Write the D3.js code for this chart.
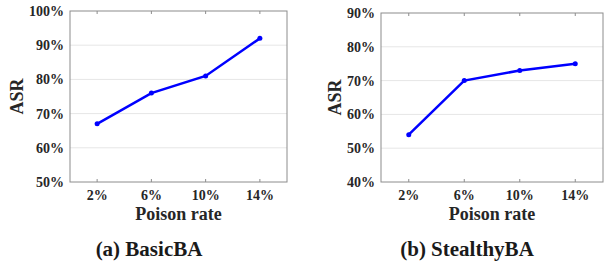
<!DOCTYPE html>
<html>
<head>
<meta charset="utf-8">
<script src="https://cdn.jsdelivr.net/npm/d3@7"></script>
<style>
  body { margin: 0; background: #fff; }
</style>
</head>
<body>
<svg width="604" height="262"></svg>
<script>
let width = 604;
let height = 262;

// dados
let rates = ["2%", "6%", "10%", "14%"];
let basicASR = [67, 76, 81, 92];
let stealthyASR = [54, 70, 73, 75];
let basicTicks = [50, 60, 70, 80, 90, 100];
let stealthyTicks = [40, 50, 60, 70, 80, 90];

let svg = d3.select("svg")
  .attr("font-family", "'Liberation Serif', 'Times New Roman', Times, serif")
  .attr("font-weight", "bold");

let textColor = "#262626";

function drawPanel(opt) {
  let g = svg.append("g");
  let x = d3.scaleBand().domain(rates).range([opt.left, opt.right]);
  let y = d3.scaleLinear().domain(opt.domain).range([opt.bottom, opt.top]);

  // grid
  g.selectAll("line.grid")
    .data(opt.ticks.slice(1, -1))
    .enter()
    .append("line")
    .attr("x1", opt.left).attr("x2", opt.right)
    .attr("y1", d => y(d)).attr("y2", d => y(d))
    .attr("stroke", "#e6e6e6").attr("stroke-width", 1);

  // box
  g.append("rect")
    .attr("x", opt.left).attr("y", opt.top)
    .attr("width", opt.right - opt.left).attr("height", opt.bottom - opt.top)
    .attr("fill", "none").attr("stroke", "#8c8c8c").attr("stroke-width", 1);

  // ticks inside (top and bottom)
  rates.forEach(r => {
    let cx = x(r) + x.bandwidth() / 2;
    g.append("line").attr("x1", cx).attr("x2", cx).attr("y1", opt.top).attr("y2", opt.top + 3).attr("stroke", "#8c8c8c");
    g.append("line").attr("x1", cx).attr("x2", cx).attr("y1", opt.bottom).attr("y2", opt.bottom - 3).attr("stroke", "#8c8c8c");
  });

  // y tick labels
  g.selectAll("text.yt")
    .data(opt.ticks)
    .enter()
    .append("text")
    .attr("x", opt.left - 6)
    .attr("y", d => y(d) + 5)
    .attr("text-anchor", "end")
    .attr("font-size", 14)
    .attr("fill", textColor)
    .text(d => d + "%");

  // x tick labels
  g.selectAll("text.xt")
    .data(rates)
    .enter()
    .append("text")
    .attr("x", d => x(d) + x.bandwidth() / 2)
    .attr("y", opt.bottom + 18)
    .attr("text-anchor", "middle")
    .attr("font-size", 14)
    .attr("fill", textColor)
    .text(d => d);

  // axis titles
  g.append("text")
    .attr("x", (opt.left + opt.right) / 2)
    .attr("y", opt.bottom + 38)
    .attr("text-anchor", "middle")
    .attr("font-size", 18)
    .attr("fill", textColor)
    .text("Poison rate");

  g.append("text")
    .attr("transform", "translate(" + opt.ylabelX + "," + ((opt.top + opt.bottom) / 2) + ") rotate(-90)")
    .attr("text-anchor", "middle")
    .attr("font-size", 18)
    .attr("fill", textColor)
    .text("ASR");

  // line + points
  let pts = opt.values.map((v, i) => [x(rates[i]) + x.bandwidth() / 2, y(v)]);
  g.append("path")
    .attr("d", d3.line()(pts))
    .attr("fill", "none")
    .attr("stroke", "#0000ff")
    .attr("stroke-width", 2.5);
  g.selectAll("circle")
    .data(pts)
    .enter()
    .append("circle")
    .attr("cx", d => d[0]).attr("cy", d => d[1])
    .attr("r", 2.5)
    .attr("fill", "#0000ff");

  // caption
  g.append("text")
    .attr("x", opt.captionX)
    .attr("y", 256)
    .attr("text-anchor", "middle")
    .attr("font-size", 21)
    .attr("fill", "#1a1a1a")
    .text(opt.caption);
}

drawPanel({
  left: 70, right: 287, top: 11, bottom: 182,
  domain: [50, 100], ticks: basicTicks, values: basicASR,
  ylabelX: 23, captionX: 149, caption: "(a) BasicBA"
});

drawPanel({
  left: 381, right: 603, top: 13, bottom: 182,
  domain: [40, 90], ticks: stealthyTicks, values: stealthyASR,
  ylabelX: 341, captionX: 467, caption: "(b) StealthyBA"
});
</script>
</body>
</html>
